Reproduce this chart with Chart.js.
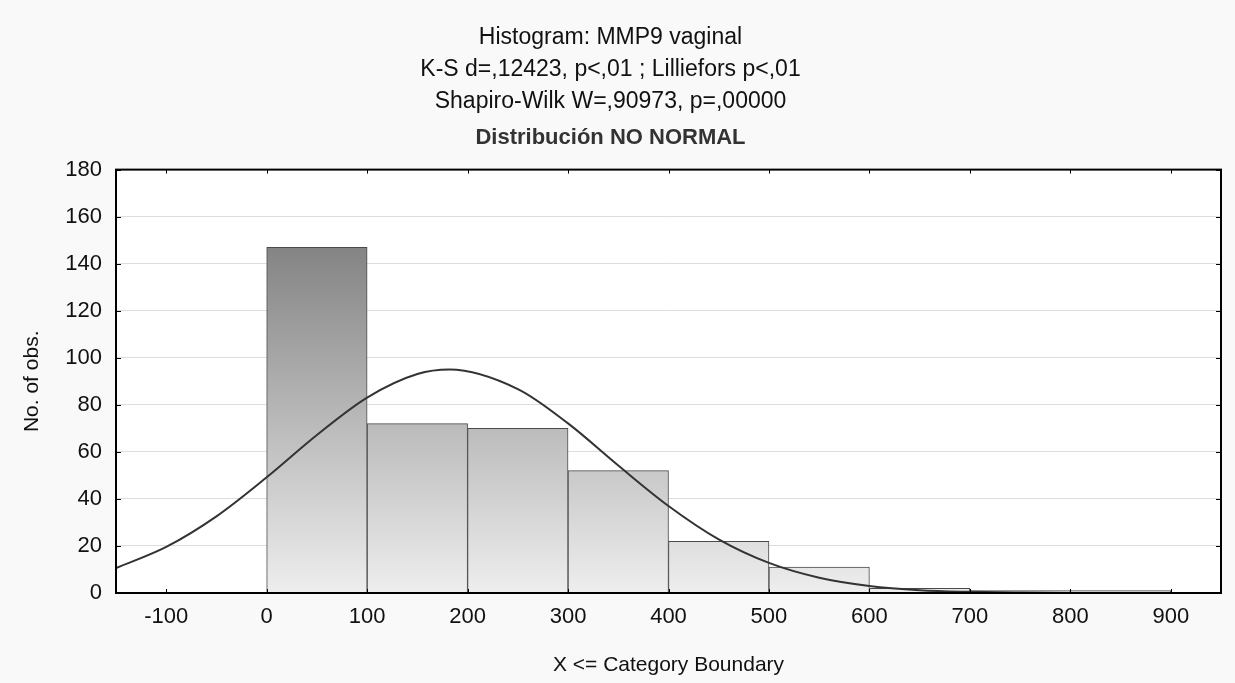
<!DOCTYPE html>
<html lang="en">
<head>
<meta charset="UTF-8">
<title>Histogram: MMP9 vaginal</title>
<script src="https://cdn.jsdelivr.net/npm/chart.js"></script>
<style>
  html, body { margin: 0; padding: 0; background: #f9f9f9; }
  #wrap { width: 1235px; height: 683px; }
</style>
</head>
<body>
<div id="wrap"><canvas id="hist"></canvas></div>
<script>
// category boundaries (upper edge of each bin) and counts
const binUpper = [0, 100, 200, 300, 400, 500, 600, 700, 800, 900];
const counts = [0, 147, 72, 70, 52, 22, 11, 2, 1, 1];

// fitted normal curve
const curveX = [-150, -100, -50, 0, 50, 100, 150, 182, 250, 300, 350, 400, 450, 500, 550, 600, 650, 700, 750, 800, 850, 900, 950];
const curveY = [10.6, 19.6, 32.6, 49.2, 67.2, 83.1, 93.1, 95.0, 86.7, 72.1, 54.2, 37.0, 22.8, 12.8, 6.5, 3.0, 1.2, 0.5, 0.2, 0.05, 0, 0, 0];

const xTicks = [-100, 0, 100, 200, 300, 400, 500, 600, 700, 800, 900];
const yTicks = [0, 20, 40, 60, 80, 100, 120, 140, 160, 180];

const FONT = 'Liberation Sans, Arial, sans-serif';

// grey background outside, white plot area
const bgPlugin = {
  id: 'bg',
  beforeDraw(chart) {
    const { ctx, chartArea: a } = chart;
    ctx.save();
    ctx.fillStyle = '#f9f9f9';
    ctx.fillRect(0, 0, chart.width, chart.height);
    ctx.fillStyle = '#ffffff';
    ctx.fillRect(a.left, a.top, a.right - a.left, a.bottom - a.top);
    ctx.restore();
  }
};

// black frame with short inward ticks on all four sides
const framePlugin = {
  id: 'frame',
  afterDraw(chart) {
    const { ctx, chartArea: a, scales } = chart;
    ctx.save();
    ctx.strokeStyle = '#000';
    ctx.lineWidth = 1;
    ctx.beginPath();
    xTicks.forEach(v => {
      const px = Math.round(scales.x.getPixelForValue(v)) + 0.5;
      ctx.moveTo(px, a.bottom); ctx.lineTo(px, a.bottom - 4);
      ctx.moveTo(px, a.top); ctx.lineTo(px, a.top + 4);
    });
    yTicks.forEach(v => {
      const py = Math.round(scales.y.getPixelForValue(v)) + 0.5;
      ctx.moveTo(a.left, py); ctx.lineTo(a.left + 5, py);
      ctx.moveTo(a.right, py); ctx.lineTo(a.right - 5, py);
    });
    ctx.stroke();
    ctx.lineWidth = 2;
    ctx.strokeRect(a.left, a.top, a.right - a.left, a.bottom - a.top);
    ctx.restore();
  }
};

function barFill(context) {
  const chart = context.chart;
  if (!chart.chartArea) return '#cccccc';
  const y = chart.scales.y;
  const g = chart.ctx.createLinearGradient(0, y.getPixelForValue(147), 0, y.getPixelForValue(0));
  g.addColorStop(0, '#848484');
  g.addColorStop(1, '#eeeeee');
  return g;
}

new Chart(document.getElementById('hist'), {
  type: 'bar',
  data: {
    datasets: [
      {
        type: 'line',
        data: curveX.map((x, i) => ({ x: x, y: curveY[i] })),
        borderColor: '#333333',
        borderWidth: 2,
        pointRadius: 0,
        cubicInterpolationMode: 'monotone',
        order: 0
      },
      {
        type: 'bar',
        data: binUpper.map((b, i) => ({ x: b - 50, y: counts[i] })),
        backgroundColor: barFill,
        borderColor: '#4a4a4a',
        borderWidth: 1,
        barPercentage: 1,
        categoryPercentage: 1,
        order: 1
      }
    ]
  },
  options: {
    responsive: true,
    maintainAspectRatio: false,
    animation: false,
    layout: { padding: { left: 0, right: 14, top: 0, bottom: 0 } },
    plugins: {
      legend: { display: false },
      tooltip: { enabled: false },
      title: {
        display: true,
        text: ['Histogram: MMP9 vaginal', 'K-S d=,12423, p<,01 ; Lilliefors p<,01', 'Shapiro-Wilk W=,90973, p=,00000'],
        color: '#111',
        font: { family: FONT, size: 23, weight: 'normal', lineHeight: 1.38 },
        padding: { top: 22, bottom: 4 }
      },
      subtitle: {
        display: true,
        text: 'Distribución NO NORMAL',
        color: '#333',
        font: { family: FONT, size: 22, weight: 'bold', lineHeight: 1.2 },
        padding: { top: 4, bottom: 18 }
      }
    },
    scales: {
      x: {
        type: 'linear',
        min: -150,
        max: 950,
        offset: false,
        grid: { display: false, drawTicks: false },
        border: { display: false },
        afterBuildTicks: s => { s.ticks = xTicks.map(v => ({ value: v })); },
        afterFit: s => { s.height = 90; },
        ticks: { color: '#111', font: { family: FONT, size: 22 }, padding: 11, maxRotation: 0 },
        title: {
          display: true,
          text: 'X <= Category Boundary',
          color: '#111',
          font: { family: FONT, size: 21 },
          padding: { top: 5, bottom: 5 }
        }
      },
      y: {
        min: 0,
        max: 180,
        grid: { color: '#dddddd', lineWidth: 1, drawTicks: false },
        border: { display: false },
        afterBuildTicks: s => { s.ticks = yTicks.map(v => ({ value: v })); },
        afterFit: s => { s.width = 116; },
        ticks: { color: '#111', font: { family: FONT, size: 22 }, padding: 14 },
        title: {
          display: true,
          text: 'No. of obs.',
          color: '#111',
          font: { family: FONT, size: 21 },
          padding: { top: 20, bottom: 20 }
        }
      }
    }
  },
  plugins: [bgPlugin, framePlugin]
});
</script>
</body>
</html>
